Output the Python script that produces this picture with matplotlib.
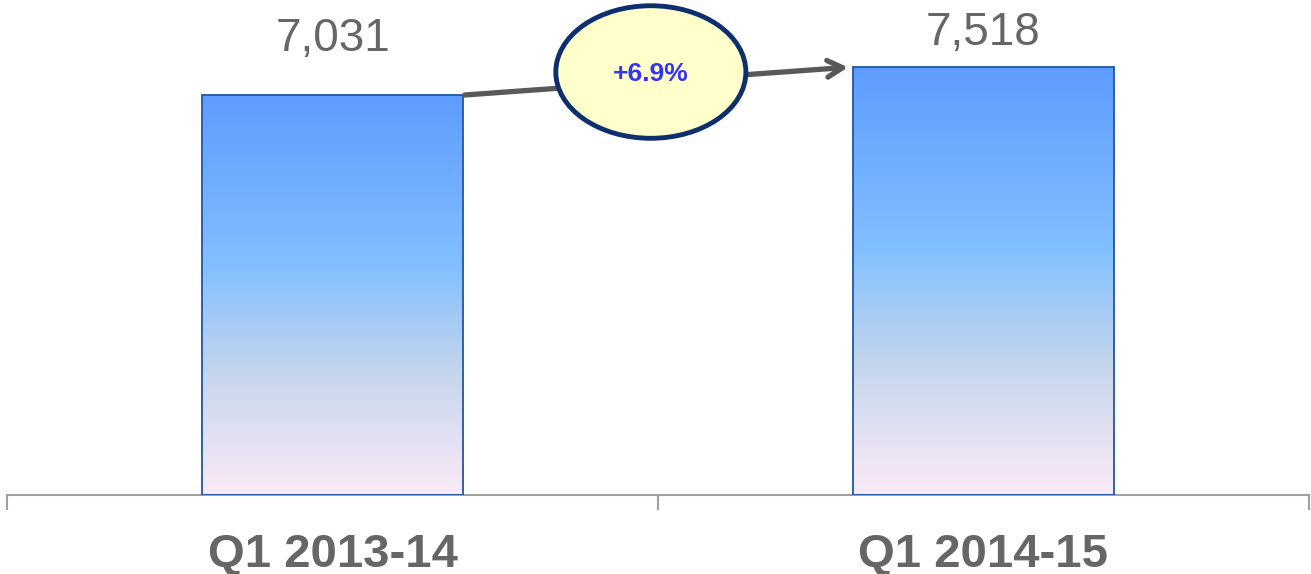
import matplotlib.pyplot as plt
import numpy as np
from matplotlib.colors import LinearSegmentedColormap
from matplotlib.patches import Ellipse

plt.rcParams['font.family'] = ['Liberation Sans', 'DejaVu Sans']

quarters = ['Q1 2013-14', 'Q1 2014-15']
values = [7031, 7518]

bar_w = 0.4
grey = '#666666'
label_gap = [32, 16]  # points between bar top and value baseline

# vertical gradient used for the bar fill (bottom -> top)
grad = LinearSegmentedColormap.from_list('bars', [
    (0.0, '#fbeaf8'),
    (0.3, '#c6d6ec'),
    (0.58, '#80bfff'),
    (1.0, '#5e9cff'),
])

fig = plt.figure(figsize=(13.11, 5.74), dpi=100)
ax = fig.add_axes([7 / 1311, 79 / 574, 1302 / 1311, 495 / 574])

x = np.arange(len(quarters))
ymax = values[0] * 495 / 400
ax.set_xlim(-0.5, len(quarters) - 0.5)
ax.set_ylim(0, ymax)

bars = ax.bar(x, values, width=bar_w, facecolor='none', edgecolor='#1f56a8',
              linewidth=1.3, zorder=3)
ramp = np.linspace(0, 1, 256).reshape(-1, 1)
for b in bars:
    x0, w, h = b.get_x(), b.get_width(), b.get_height()
    im = ax.imshow(ramp, cmap=grad, origin='lower', aspect='auto',
                   extent=[x0, x0 + w, 0, h], zorder=2)
    im.set_clip_path(b)

for xi, v, gap in zip(x, values, label_gap):
    ax.annotate(f'{v:,}', (xi, v), xytext=(0, gap), textcoords='offset points',
                ha='center', va='baseline', fontsize=33, color=grey)

# growth arrow between the two bar tops
ax.annotate('', xy=(1 - bar_w / 2 - 0.008, values[1]),
            xytext=(bar_w / 2 + 0.003, values[0]),
            arrowprops=dict(arrowstyle='->,head_length=1.1,head_width=0.6',
                            color='#595959', lw=3.8, shrinkA=0, shrinkB=0),
            zorder=4)

growth = (values[1] / values[0] - 1) * 100
cx, cy = 0.489, 7435
ax.add_patch(Ellipse((cx, cy), 0.292, 2330, facecolor='#ffffcc',
                     edgecolor='#0d2f6e', linewidth=3.5, zorder=5, clip_on=False))
ax.text(cx, cy - 40, f'+{growth:.1f}%', ha='center', va='center', fontsize=19,
        fontweight='bold', color='#3333ff', zorder=6)

for s in ['left', 'right', 'top']:
    ax.spines[s].set_visible(False)
ax.spines['bottom'].set_color('#a0a0a0')
ax.spines['bottom'].set_linewidth(1.5)
ax.set_yticks([])
ax.set_xticks(x)
ax.set_xticklabels(quarters, fontsize=34, fontweight='bold', color=grey)
ax.tick_params(axis='x', which='major', length=0, pad=27)
ax.set_xticks(np.arange(-0.5, len(quarters)), minor=True)
ax.tick_params(axis='x', which='minor', length=11, width=1.5, color='#a0a0a0')

fig.savefig('out.png', dpi=100)
